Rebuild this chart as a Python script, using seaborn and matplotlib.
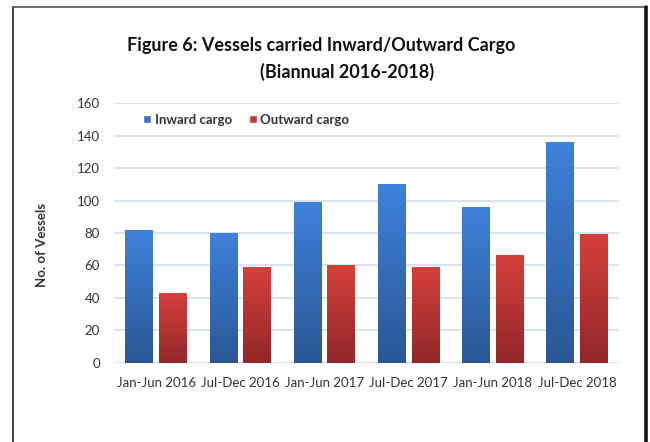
import numpy as np
import pandas as pd
import seaborn as sns
import matplotlib.pyplot as plt
from matplotlib.patches import Patch
from matplotlib.lines import Line2D
from matplotlib.colors import to_rgb

# data
periods = ['Jan-Jun 2016', 'Jul-Dec 2016', 'Jan-Jun 2017',
           'Jul-Dec 2017', 'Jan-Jun 2018', 'Jul-Dec 2018']
inward = [82, 80, 99, 110, 96, 136]
outward = [43, 59, 60, 59, 66, 79]
series = ['Inward cargo', 'Outward cargo']

df = pd.DataFrame({
    'Period': periods * 2,
    'Vessels': inward + outward,
    'Cargo': [series[0]] * len(periods) + [series[1]] * len(periods),
})

sns.set_style('white')
plt.rcParams['font.family'] = ['Lato', 'DejaVu Sans']

fig = plt.figure(figsize=(6.5, 4.42), dpi=100)
ax = fig.add_axes([0.1754, 0.1794, 0.7769, 0.5869])

sns.barplot(data=df, x='Period', y='Vessels', hue='Cargo', hue_order=series,
            palette=['#3a72c4', '#c23b38'], width=0.8, gap=0.18,
            linewidth=0, legend=False, ax=ax)

# vertical gradient on the bars, light at top and dark at bottom
grads = [('#3e81db', '#2b5794'), ('#d43f3b', '#92282a')]
for cont, (top, bot) in zip(ax.containers, grads):
    t, b = np.array(to_rgb(top)), np.array(to_rgb(bot))
    for bar in cont:
        x, w, h = bar.get_x(), bar.get_width(), bar.get_height()
        f = np.linspace(0, 1, 64)[:, None, None]
        img = t * (1 - f) + b * f
        ax.imshow(img, extent=[x, x + w, 0, h], aspect='auto',
                  origin='upper', zorder=3, interpolation='bilinear')
        bar.set_visible(False)

ax.set_xlim(-0.5, 5.5)
ax.set_ylim(0, 160)
ax.set_yticks(range(0, 161, 20))
ax.grid(axis='y', color='#d6e1ef', linewidth=1.3, zorder=0)
ax.set_axisbelow(True)
for s in ax.spines.values():
    s.set_visible(False)
ax.tick_params(axis='both', length=0, labelsize=9.5, colors='#333333')
ax.tick_params(axis='y', pad=10)
ax.tick_params(axis='x', pad=10)
ax.set_xlabel('')
ax.set_ylabel('')

handles = [Patch(facecolor='#3a72c4'), Patch(facecolor='#c23b38')]
ax.legend(handles, series, loc='center left', bbox_to_anchor=(0.045, 0.936),
          ncol=2, frameon=False, borderpad=0, handlelength=0.6,
          handleheight=0.6, handletextpad=0.25, columnspacing=1.3,
          prop={'size': 9.5, 'weight': 'bold'}, labelcolor='#333333')

fig.text(42 / 650, 1 - 245 / 442, 'No. of Vessels', rotation=90,
         ha='center', va='center', fontsize=9.5, fontweight='bold',
         color='#333333')

fig.text(321 / 650, 1 - 46 / 442, 'Figure 6: Vessels carried Inward/Outward Cargo',
         ha='center', va='center', fontsize=13, fontweight='bold', color='#111111')
fig.text(347 / 650, 1 - 72 / 442, '(Biannual 2016-2018)',
         ha='center', va='center', fontsize=13, fontweight='bold', color='#111111')

# outer frame of the chart box
fig.add_artist(Line2D([12.5 / 650, 12.5 / 650], [0, 1 - 7 / 442],
                      transform=fig.transFigure, color='#222222', linewidth=1.2))
fig.add_artist(Line2D([12.5 / 650, 647 / 650], [1 - 7 / 442, 1 - 7 / 442],
                      transform=fig.transFigure, color='#555555', linewidth=1.2))
fig.add_artist(Line2D([646 / 650, 646 / 650], [0, 1 - 7 / 442],
                      transform=fig.transFigure, color='#111111', linewidth=2.6))

fig.savefig('out.png', dpi=100)
